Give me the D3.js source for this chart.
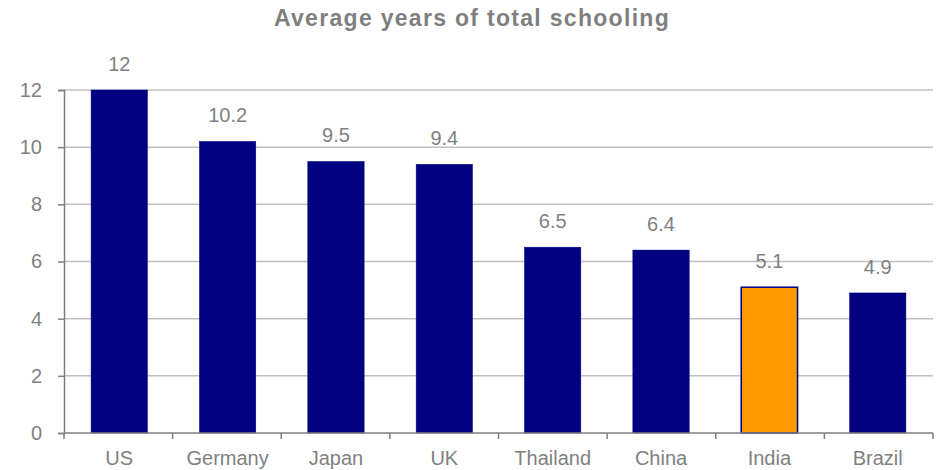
<!DOCTYPE html>
<html><head><meta charset="utf-8">
<script src="https://cdn.jsdelivr.net/npm/d3@7"></script>
<style>body{margin:0;background:#fff}svg{display:block}text{font-family:"Liberation Sans",Arial,sans-serif}</style>
</head><body><svg id="c" width="940" height="470"></svg>
<script>
const categories = ["US","Germany","Japan","UK","Thailand","China","India","Brazil"];
const values = [12, 10.2, 9.5, 9.4, 6.5, 6.4, 5.1, 4.9];
const valueLabels = ["12","10.2","9.5","9.4","6.5","6.4","5.1","4.9"];
const highlight = ["India"];
const yTicks = [0,2,4,6,8,10,12];
const title = "Average years of total schooling";

const svg = d3.select("#c");
const m = {l:64, r:7, t:90, b:37};
const W = 940, H = 470;
const x = d3.scaleBand().domain(categories).range([m.l, W-m.r]).paddingInner(0.48).paddingOuter(0.25);
const y = d3.scaleLinear().domain([0,12]).range([H-m.b, m.t]);
const gray = "#7f7f7f";
const fs = 20;

svg.append("text").attr("x", 472).attr("y", 26).attr("text-anchor","middle")
  .attr("font-size", 23).attr("font-weight","bold").attr("letter-spacing", 1.3)
  .attr("fill", gray).text(title);

// gridlines
svg.append("g").selectAll("line").data(yTicks.filter(d=>d>0)).join("line")
  .attr("x1", m.l).attr("x2", W-m.r).attr("y1", d=>y(d)).attr("y2", d=>y(d))
  .attr("stroke", "#c0c0c0").attr("stroke-width", 1.5);

// bars
svg.append("g").selectAll("rect").data(categories).join("rect")
  .attr("x", d=>x(d)).attr("width", x.bandwidth())
  .attr("y", (d,i)=>y(values[i])).attr("height", (d,i)=>y(0)-y(values[i]))
  .attr("fill", d=>highlight.includes(d) ? "#ff9900" : "#000080")
  .attr("stroke", "#000080").attr("stroke-width", d=>highlight.includes(d)?1.5:0.5);

// value labels
svg.append("g").selectAll("text").data(categories).join("text")
  .attr("x", d=>x(d)+x.bandwidth()/2).attr("y", (d,i)=>y(values[i])-19)
  .attr("text-anchor","middle").attr("font-size", fs).attr("fill", gray)
  .text((d,i)=>valueLabels[i]);

// y axis
const ya = svg.append("g").attr("transform", `translate(${m.l},0)`)
  .call(d3.axisLeft(y).tickValues(yTicks).tickSize(6).tickPadding(16).tickFormat(d3.format("d")));
ya.select(".domain").attr("stroke", gray).attr("stroke-width", 1.5);
ya.selectAll(".tick line").attr("stroke", gray).attr("stroke-width", 1.5);
ya.selectAll(".tick text").attr("fill", gray).attr("font-size", fs).attr("font-family", '"Liberation Sans",Arial,sans-serif');

// x axis
const xa = svg.append("g").attr("transform", `translate(0,${y(0)})`);
xa.append("line").attr("x1", m.l).attr("x2", W-m.r).attr("stroke", gray).attr("stroke-width", 1.5);
const bounds = d3.range(categories.length+1).map(i => m.l + i*(W-m.r-m.l)/categories.length);
xa.selectAll("line.t").data(bounds).join("line").attr("class","t")
  .attr("x1", d=>d).attr("x2", d=>d).attr("y1", 0).attr("y2", 6)
  .attr("stroke", gray).attr("stroke-width", 1.5);
xa.selectAll("text").data(categories).join("text")
  .attr("x", d=>x(d)+x.bandwidth()/2).attr("y", 32)
  .attr("text-anchor","middle").attr("font-size", fs).attr("fill", gray).text(d=>d);
</script></body></html>
